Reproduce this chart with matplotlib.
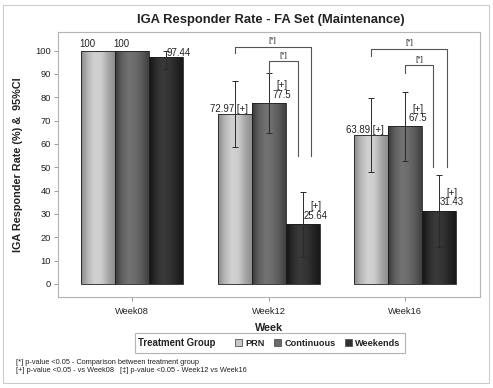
import numpy as np
import matplotlib
matplotlib.use('Agg')
import matplotlib.pyplot as plt
from matplotlib.colors import LinearSegmentedColormap
from matplotlib.patches import Rectangle, Patch

plt.rcParams['font.family'] = ['Liberation Sans', 'DejaVu Sans']

# ── Data ──────────────────────────────────────────────────────────
weeks = ['Week08', 'Week12', 'Week16']
groups = ['PRN', 'Continuous', 'Weekends']
prn = [100, 72.97, 63.89]
continuous = [100, 77.5, 67.5]
weekends = [97.44, 25.64, 31.43]
prn_ci = [(100, 100), (58.7, 87.2), (48.1, 79.5)]
continuous_ci = [(100, 100), (64.5, 90.4), (52.9, 82.1)]
weekends_ci = [(92.2, 100), (11.7, 39.2), (16.0, 46.8)]
# "[+]" flag: significant vs Week08
prn_flag = [False, True, True]
continuous_flag = [False, True, True]
weekends_flag = [False, True, True]

values = [prn, continuous, weekends]
cis = [prn_ci, continuous_ci, weekends_ci]
flags = [prn_flag, continuous_flag, weekends_flag]

# ── Style ─────────────────────────────────────────────────────────
cmaps = [
    ['#8a8a8a', '#b8b8b8', '#d2d2d2', '#cdcdcd', '#a8a8a8', '#8e8e8e'],
    ['#3a3a3a', '#606060', '#727272', '#6c6c6c', '#5a5a5a', '#404040'],
    ['#141414', '#2c2c2c', '#3a3a3a', '#343434', '#262626', '#181818'],
]
legend_colors = ['#c8c8c8', '#6a6a6a', '#303030']
TXT = '#222222'
W = 0.249                      # bar width
PX = 1 / 136.5                 # one pixel in x data units

fig = plt.figure(figsize=(4.93, 3.88), dpi=100)
fig.patch.set_facecolor('white')
ax = fig.add_axes([58/493, 1-297/388, 422/493, 265/388])

x = np.arange(len(weeks))
offsets = [-W, 0, W]
grad = np.linspace(0, 1, 64).reshape(1, -1)

for g in range(3):
    xs = x + offsets[g]
    bars = ax.bar(xs, values[g], W, color=legend_colors[g], zorder=2)
    cmap = LinearSegmentedColormap.from_list('g%d' % g, cmaps[g])
    for b in bars:
        im = ax.imshow(grad, cmap=cmap, aspect='auto', zorder=2.1,
                       extent=[b.get_x(), b.get_x() + b.get_width(), 0, b.get_height()])
        im.set_clip_path(b)
    ax.bar(xs, values[g], W, fill=False, edgecolor='#1e1e1e', lw=0.6, zorder=2.2)
    lo = np.array([c[0] for c in cis[g]])
    hi = np.array([c[1] for c in cis[g]])
    v = np.array(values[g])
    ax.errorbar(xs, v, yerr=[v - lo, hi - v], fmt='none', ecolor='#2a2a2a',
                elinewidth=0.7, capsize=2.3, capthick=0.7, zorder=3)

# ── Value labels ──────────────────────────────────────────────────
for g in range(3):
    for i in range(3):
        bx = x[i] + offsets[g]
        val = values[g][i]
        s = ('%.2f' % val).rstrip('0').rstrip('.')
        if flags[g][i]:
            if g == 0:
                ax.text(bx + 13*PX, val + 2.2, s + ' [+]', ha='right', va='center',
                        fontsize=6.9, color=TXT, zorder=4)
            else:
                ax.text(bx + 13*PX, val + 1.4, '[+]\n' + s, ha='center', va='bottom',
                        fontsize=6.9, color=TXT, linespacing=0.95, zorder=4)
        else:
            if g < 2:
                ax.text(bx - 3*PX, val + 0.6, s, ha='right', va='bottom',
                        fontsize=6.9, color=TXT, zorder=4)
            else:
                ax.text(bx + 1*PX, val + 1.6, s, ha='left', va='center',
                        fontsize=6.9, color=TXT, zorder=4)

# ── Significance brackets between groups ──────────────────────────
# (week index, left group, right group, right offset, top, left bottom, right bottom)
brackets = [
    (1, 0, 2, 0.06, 101.7, 99.0, 55.0),
    (1, 1, 2, -0.035, 95.4, 90.6, 55.0),
    (2, 0, 2, 0.055, 100.8, 97.8, 50.3),
    (2, 1, 2, -0.045, 93.7, 90.4, 50.3),
]
for wi, gl, gr, roff, top, lb, rb in brackets:
    xl = x[wi] + offsets[gl]
    xr = x[wi] + offsets[gr] + roff
    ax.plot([xl, xl, xr, xr], [lb, top, top, rb], color='#555555', lw=0.8, zorder=3)
    ax.text((xl + xr) / 2, top + 1.2, '[*]', ha='center', va='bottom',
            fontsize=5.8, color=TXT, zorder=4)

# ── Axes ──────────────────────────────────────────────────────────
ax.set_xlim(-0.542, 2.549)
ax.set_ylim(-5.6, 108)
ax.set_xticks(x)
ax.set_xticklabels(weeks)
ax.set_yticks(np.arange(0, 101, 10))
ax.tick_params(axis='both', labelsize=6.7, colors='#888888', labelcolor=TXT,
               length=3, width=0.6)
ax.tick_params(axis='y', pad=2)
ax.tick_params(axis='x', pad=4)
for sp in ax.spines.values():
    sp.set_color('#b4b4b4')
    sp.set_linewidth(0.8)

ax.set_ylabel('IGA Responder Rate (%) &  95%CI', fontsize=7.8,
              fontweight='bold', color=TXT)
ax.yaxis.set_label_coords(-0.083, 0.5)
ax.set_xlabel('Week', fontsize=7.8, fontweight='bold', color=TXT)
ax.xaxis.set_label_coords(0.5, -0.098)

fig.text(271/493, 1-20/388, 'IGA Responder Rate - FA Set (Maintenance)',
         ha='center', va='center', fontsize=9.4, fontweight='bold', color=TXT)

# ── Legend ────────────────────────────────────────────────────────
fig.add_artist(Rectangle((135/493, 1-353/388), 270/493, 20/388,
                         transform=fig.transFigure, fill=False,
                         edgecolor='#b4b4b4', lw=0.8))
fig.text(138/493, 1-343/388, 'Treatment Group', ha='left', va='center',
         fontsize=6.9, fontweight='bold', color=TXT)
handles = [Patch(facecolor=c, edgecolor='#555555', lw=0.6) for c in legend_colors]
fig.legend(handles, groups, ncol=3, frameon=False, loc='center left',
           bbox_to_anchor=(235/493, 1-343/388), borderpad=0, borderaxespad=0,
           handlelength=0.75, handleheight=0.75, handletextpad=0.4,
           columnspacing=1.0, prop={'size': 6.6, 'weight': 'bold'}, labelcolor=TXT)

# ── Footnotes ─────────────────────────────────────────────────────
fig.text(16/493, 1-362/388, '[*] p-value <0.05 - Comparison between treatment group',
         ha='left', va='center', fontsize=5.3, color=TXT)
fig.text(16/493, 1-370.5/388,
         '[+] p-value <0.05 - vs Week08   [\u2021] p-value <0.05 - Week12 vs Week16',
         ha='left', va='center', fontsize=5.3, color=TXT)

# outer frame
fig.add_artist(Rectangle((3/493, 1-383/388), 486/493, 378/388,
                         transform=fig.transFigure, fill=False,
                         edgecolor='#cccccc', lw=0.8))

fig.savefig('out.png', dpi=100)
